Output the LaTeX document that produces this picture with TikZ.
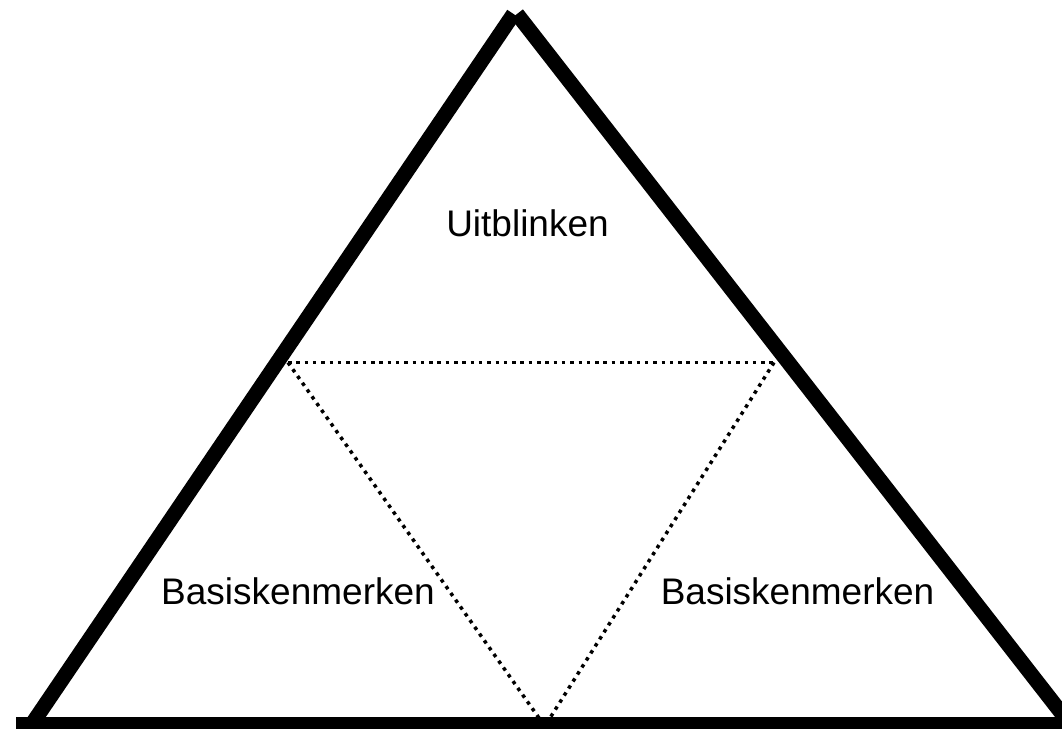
\documentclass[tikz,border=0pt]{standalone}
\usepackage{fontspec}
\setmainfont{Liberation Sans}
\begin{document}
\begin{tikzpicture}[x=1pt,y=1pt,
  side/.style={line width=15pt, line cap=butt},
  divider/.style={line width=3.5pt, line cap=butt, dash pattern=on 3.5pt off 4.8pt},
  lbl/.style={font=\fontsize{37}{41}\selectfont, anchor=base, inner sep=0pt}]
\useasboundingbox (0,0) rectangle (1062,728);
\clip (0,0) rectangle (1062,728);
% corners
\coordinate (apexL) at (513.5,714);
\coordinate (apexR) at (517,714);
\coordinate (bl) at (32,4);
\coordinate (br) at (1070,4);
\coordinate (b0) at (16,3.5);
\coordinate (b1) at (1080,3.5);
% inner dotted triangle
\coordinate (mL) at (288,365.5);
\coordinate (mR) at (774,365.5);
\coordinate (bm1) at (539,10);
\coordinate (bm2) at (550,10);
\draw[divider] (mL) -- (mR);
\draw[divider] (mL) -- (bm1);
\draw[divider] (mR) -- (bm2);
% outer triangle
\draw[side] (bl) -- (apexL);
\draw[side] (apexR) -- (br);
\draw[side] (b0) -- (b1);
% labels
\node[lbl] (top) at (527.5,491) {Uitblinken};
\node[lbl] (left) at (298,123) {Basiskenmerken};
\node[lbl] (right) at (797.5,123) {Basiskenmerken};
\end{tikzpicture}
\end{document}
